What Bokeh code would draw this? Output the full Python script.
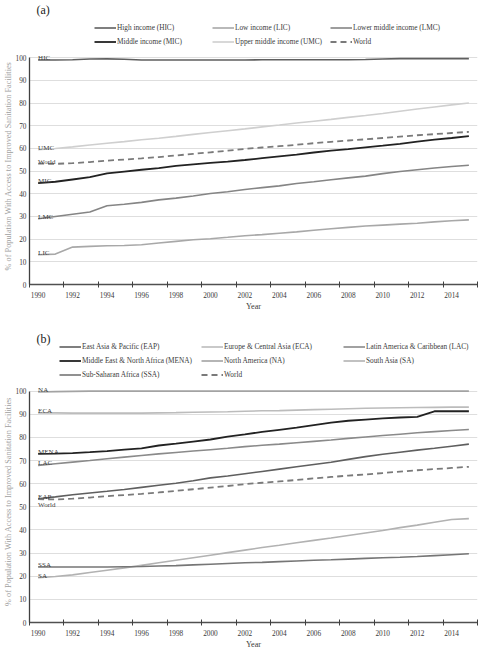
from bokeh.plotting import figure
from bokeh.models import Range1d, FixedTicker, Legend, LegendItem, Label
from bokeh.layouts import column
from bokeh.core.properties import value
from bokeh.embed import file_html
from bokeh.resources import INLINE

FONT = "Liberation Serif"

YEARS = list(range(1990, 2016))
TICK_LABEL_YEARS = list(range(1990, 2016, 2))
Y_TICKS = list(range(0, 101, 10))

# Panel (a): income groups
HIC = [99.0, 99.0, 99.1, 99.4, 99.5, 99.3, 99.0, 99.0, 99.0, 99.0, 99.0, 99.0, 99.0,
       99.1, 99.1, 99.1, 99.1, 99.1, 99.1, 99.2, 99.4, 99.6, 99.6, 99.6, 99.6, 99.6]
LIC = [13.1, 13.4, 16.5, 16.8, 17.1, 17.2, 17.5, 18.3, 19.0, 19.7, 20.2, 20.8, 21.5,
       22.0, 22.6, 23.2, 23.9, 24.6, 25.2, 25.8, 26.2, 26.6, 27.0, 27.6, 28.1, 28.5]
LMC = [29.0, 30.0, 31.0, 32.0, 34.7, 35.4, 36.2, 37.3, 38.1, 39.0, 40.1, 40.9, 41.9,
       42.7, 43.5, 44.5, 45.3, 46.2, 47.0, 47.8, 48.9, 49.8, 50.6, 51.4, 52.0, 52.6]
MIC = [44.7, 45.3, 46.3, 47.3, 49.0, 49.8, 50.6, 51.3, 52.3, 53.0, 53.6, 54.2, 54.9,
       55.7, 56.5, 57.3, 58.2, 59.0, 59.7, 60.5, 61.2, 62.0, 63.0, 63.9, 64.6, 65.4]
UMC = [59.4, 60.0, 60.7, 61.5, 62.3, 63.0, 63.8, 64.5, 65.3, 66.2, 67.0, 67.8, 68.6,
       69.5, 70.3, 71.2, 72.0, 72.8, 73.7, 74.5, 75.4, 76.4, 77.4, 78.3, 79.2, 80.0]
WORLD = [53.3, 53.2, 53.5, 54.0, 54.6, 55.1, 55.6, 56.2, 56.9, 57.6, 58.3, 59.0, 59.8,
         60.4, 61.0, 61.6, 62.3, 62.9, 63.5, 64.0, 64.6, 65.2, 65.8, 66.3, 66.8, 67.3]

# Panel (b): regions
EAP = [53.5, 54.3, 55.2, 56.0, 56.7, 57.5, 58.4, 59.3, 60.2, 61.3, 62.5, 63.3, 64.3,
       65.3, 66.3, 67.3, 68.3, 69.3, 70.5, 71.7, 72.7, 73.6, 74.5, 75.3, 76.2, 77.1]
ECA = [90.6, 90.6, 90.5, 90.5, 90.5, 90.5, 90.5, 90.6, 90.7, 90.9, 91.0, 91.1, 91.3,
       91.5, 91.6, 91.8, 92.0, 92.2, 92.4, 92.6, 92.7, 92.8, 92.9, 93.0, 93.1, 93.1]
LAC = [67.9, 68.6, 69.3, 70.0, 70.8, 71.5, 72.2, 72.9, 73.5, 74.1, 74.7, 75.3, 76.0,
       76.6, 77.1, 77.7, 78.3, 78.9, 79.6, 80.2, 80.8, 81.4, 82.0, 82.5, 83.0, 83.4]
MENA = [72.9, 73.0, 73.2, 73.6, 74.1, 74.7, 75.3, 76.5, 77.3, 78.2, 79.1, 80.3, 81.3,
        82.4, 83.3, 84.2, 85.3, 86.4, 87.2, 87.7, 88.2, 88.6, 88.9, 91.3, 91.3, 91.3]
NA = [99.6, 99.8, 99.9, 100.0, 100.0, 100.0, 100.0, 100.0, 100.0, 100.0, 100.0, 100.0, 100.0,
      100.0, 100.0, 100.0, 100.0, 100.0, 100.0, 100.0, 100.0, 100.0, 100.0, 100.0, 100.0, 100.0]
SA = [19.4, 19.9, 20.6, 21.6, 22.6, 23.6, 24.7, 25.8, 26.9, 28.0, 29.1, 30.2, 31.3,
      32.4, 33.4, 34.5, 35.5, 36.5, 37.6, 38.7, 39.8, 41.0, 42.1, 43.3, 44.5, 44.9]
SSA = [24.0, 24.0, 24.0, 24.0, 24.0, 24.1, 24.2, 24.4, 24.6, 24.9, 25.2, 25.5, 25.8,
       26.0, 26.3, 26.6, 26.9, 27.1, 27.4, 27.7, 28.0, 28.2, 28.5, 28.9, 29.3, 29.7]

Y_TITLE = "% of Population With Access to Improved Sanitation Facilities"
X_TITLE = "Year"

TEXT_DARK = "#3a3a3a"

# series styles: name -> (color, width, dash)
STYLE_A = {
    "HIC": ("#5f5f5f", 1.6, "solid"),
    "LIC": ("#a8a8a8", 1.6, "solid"),
    "LMC": ("#858585", 1.6, "solid"),
    "MIC": ("#222222", 1.8, "solid"),
    "UMC": ("#cfcfcf", 1.6, "solid"),
    "World": ("#7a7a7a", 1.8, "6 4"),
}
STYLE_B = {
    "EAP": ("#5f5f5f", 1.6, "solid"),
    "ECA": ("#bcbcbc", 1.6, "solid"),
    "LAC": ("#8a8a8a", 1.6, "solid"),
    "MENA": ("#222222", 1.8, "solid"),
    "NA": ("#a3a3a3", 1.6, "solid"),
    "SA": ("#b2b2b2", 1.6, "solid"),
    "SSA": ("#767676", 1.6, "solid"),
    "World": ("#7a7a7a", 1.8, "6 4"),
}
DATA_A = {"HIC": HIC, "LIC": LIC, "LMC": LMC, "MIC": MIC, "UMC": UMC, "World": WORLD}
DATA_B = {"EAP": EAP, "ECA": ECA, "LAC": LAC, "MENA": MENA, "NA": NA, "SA": SA,
          "SSA": SSA, "World": WORLD}

LEGEND_A = [
    [("High income (HIC)", "HIC"), ("Middle income (MIC)", "MIC")],
    [("Low income (LIC)", "LIC"), ("Upper middle income (UMC)", "UMC")],
    [("Lower middle income (LMC)", "LMC"), ("World", "World")],
]
LEGEND_B = [
    [("East Asia & Pacific (EAP)", "EAP"), ("Middle East & North Africa (MENA)", "MENA"),
     ("Sub-Saharan Africa (SSA)", "SSA")],
    [("Europe & Central Asia (ECA)", "ECA"), ("North America (NA)", "NA"), ("World", "World")],
    [("Latin America & Caribbean (LAC)", "LAC"), ("South Asia (SA)", "SA")],
]

ROW_PITCH = 14  # glyph/label height 11 + spacing 3


def main_figure(height, bottom, ymax):
    p = figure(width=480, height=height, output_backend="svg", toolbar_location=None,
               x_range=Range1d(YEARS[0] - 0.5, YEARS[-1] + 0.5),
               y_range=Range1d(0, ymax),
               min_border_left=29, min_border_right=3,
               min_border_top=0, min_border_bottom=bottom)
    p.outline_line_color = None
    p.background_fill_color = "white"
    p.border_fill_color = "white"
    xa = p.xaxis[0]
    xa.ticker = FixedTicker(ticks=TICK_LABEL_YEARS,
                            minor_ticks=[y - 0.5 for y in TICK_LABEL_YEARS] + [YEARS[-1] + 0.5])
    xa.major_tick_line_color = None
    xa.major_tick_out = 0
    xa.major_tick_in = 0
    xa.minor_tick_line_color = "#404040"
    xa.minor_tick_in = 3
    xa.minor_tick_out = 3
    xa.axis_line_color = "#505050"
    xa.axis_line_width = 1.6
    xa.major_label_text_font = FONT
    xa.major_label_text_font_size = "7.3px"
    xa.major_label_text_color = TEXT_DARK
    xa.major_label_standoff = 4
    xa.axis_label = X_TITLE
    xa.axis_label_text_font = FONT
    xa.axis_label_text_font_size = "8.2px"
    xa.axis_label_text_font_style = "normal"
    xa.axis_label_text_color = TEXT_DARK
    xa.axis_label_standoff = 1
    ya = p.yaxis[0]
    ya.ticker = FixedTicker(ticks=Y_TICKS)
    ya.bounds = (0, 100)
    ya.major_tick_line_color = None
    ya.minor_tick_line_color = None
    ya.major_tick_out = 0
    ya.major_tick_in = 0
    ya.axis_line_color = "#404040"
    ya.axis_line_width = 1.3
    ya.major_label_text_font = FONT
    ya.major_label_text_font_size = "7.3px"
    ya.major_label_text_color = TEXT_DARK
    ya.major_label_standoff = 3
    ya.axis_label = Y_TITLE
    ya.axis_label_text_font = FONT
    ya.axis_label_text_font_size = "8.3px"
    ya.axis_label_text_font_style = "normal"
    ya.axis_label_text_color = "#a0a0a0"
    ya.axis_label_standoff = 0
    p.xgrid.visible = False
    p.ygrid.ticker = FixedTicker(ticks=Y_TICKS[1:])
    p.ygrid.grid_line_color = "#dedede"
    p.ygrid.grid_line_width = 1
    return p


def draw_series(p, data, styles):
    out = {}
    for name, vals in data.items():
        c, w, d = styles[name]
        out[name] = p.line(YEARS, vals, line_color=c, line_width=w, line_dash=d)
    return out


def add_line_labels(p, names, values, baseline, dy):
    p.text(x=[YEARS[0]] * len(names), y=values, text=names, text_font=value(FONT),
           text_font_size="7px", text_color=TEXT_DARK, text_baseline=baseline,
           text_align="left", y_offset=dy)


def legend_figure(height, data, styles, columns, col_x, tag, tag_vy):
    # a strip above each panel that holds the legend and the panel tag
    lf = figure(width=480, height=height, output_backend="svg", toolbar_location=None,
                x_axis_type=None, y_axis_type=None,
                x_range=Range1d(0, 1), y_range=Range1d(0, 1),
                min_border_left=0, min_border_right=0, min_border_top=0, min_border_bottom=0)
    lf.outline_line_color = None
    lf.grid.visible = False
    # the series are drawn off-screen here; only their legend samples show
    rends = draw_series(lf, data, styles)
    nrows = max(len(c) for c in columns)
    for cx, col in zip(col_x, columns):
        items = [LegendItem(label=lab, renderers=[rends[key]]) for lab, key in col]
        leg = Legend(items=items, location=(cx, (nrows - len(col)) * ROW_PITCH),
                     orientation="vertical",
                     glyph_width=22, glyph_height=11, label_height=11, label_standoff=1,
                     spacing=3, padding=0, margin=0, border_line_color=None,
                     background_fill_alpha=0, label_text_font=FONT,
                     label_text_font_size="7.3px", label_text_color=TEXT_DARK)
        lf.add_layout(leg)
    lf.add_layout(Label(x=7, y=tag_vy, x_units="screen", y_units="screen", text=tag,
                        text_font=FONT, text_font_size="12px", text_color="#222222",
                        text_baseline="middle", text_align="left"))
    return lf


# ---------------- Panel (a) ----------------
la = legend_figure(47, DATA_A, STYLE_A, LEGEND_A, [65, 183, 301], "(a)", 38)
pa = main_figure(height=271, bottom=34, ymax=104.5)
draw_series(pa, DATA_A, STYLE_A)
add_line_labels(pa, ["HIC", "UMC", "World", "MIC", "LMC", "LIC"],
                [HIC[0], UMC[0], WORLD[0], MIC[0], LMC[0], LIC[0]], "alphabetic", -2)

# ---------------- Panel (b) ----------------
lb = legend_figure(62, DATA_B, STYLE_B, LEGEND_B, [30, 172, 314], "(b)", 42)
pb = main_figure(height=271, bottom=27, ymax=104.6)
draw_series(pb, DATA_B, STYLE_B)
add_line_labels(pb, ["NA", "ECA", "MENA", "LAC", "EAP", "SSA", "SA"],
                [NA[0], ECA[0], MENA[0], LAC[0], EAP[0], SSA[0], SA[0]], "alphabetic", -2)
add_line_labels(pb, ["World"], [WORLD[0]], "top", 2)

layout = column(la, pa, lb, pb, spacing=0)
open("out.html", "w").write(file_html(layout, INLINE))
